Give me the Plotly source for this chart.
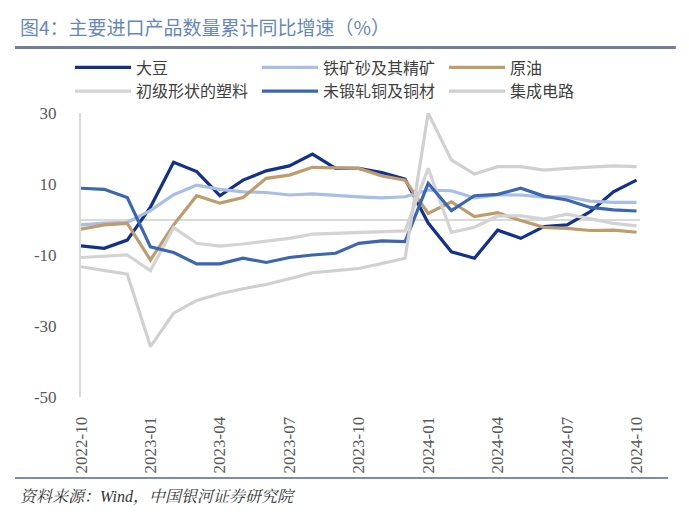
import plotly.graph_objects as go

months = ["2022-10", "2022-11", "2022-12", "2023-01", "2023-02", "2023-03", "2023-04",
          "2023-05", "2023-06", "2023-07", "2023-08", "2023-09", "2023-10", "2023-11",
          "2023-12", "2024-01", "2024-02", "2024-03", "2024-04", "2024-05", "2024-06",
          "2024-07", "2024-08", "2024-09", "2024-10"]

soybean = [-7.4, -8.1, -5.8, 3.5, 16.1, 13.5, 6.7, 11.1, 13.7, 15.1, 18.4, 14.4, 14.4,
           13.2, 11.4, -1.0, -9.1, -10.9, -3.0, -5.3, -2.0, -1.5, 2.2, 7.8, 11.1]
iron_ore = [-1.5, -1.0, -0.8, 2.5, 7.0, 9.7, 8.5, 7.8, 7.6, 6.9, 7.2, 6.7, 6.4,
            6.1, 6.4, 8.3, 8.1, 6.1, 6.9, 6.9, 6.3, 6.4, 5.2, 4.8, 4.8]
crude_oil = [-2.7, -1.5, -1.1, -11.4, -1.5, 6.7, 4.6, 6.2, 11.6, 12.5, 14.7, 14.5, 14.4,
             12.3, 11.1, 1.7, 5.0, 0.8, 1.9, -0.3, -2.2, -2.5, -3.1, -3.0, -3.6]
plastics = [-10.7, -10.3, -10.0, -14.4, -2.3, -6.7, -7.5, -6.9, -6.0, -5.3, -4.1, -3.9, -3.6,
            -3.6, -3.2, 14.4, -3.6, -2.2, 1.0, 1.0, 0.1, 1.5, 0.3, -1.1, -1.8]
copper = [8.8, 8.5, 6.2, -7.7, -9.3, -12.5, -12.5, -10.9, -12.1, -10.7, -10.0, -9.5, -6.7,
          -6.0, -6.2, 10.2, 2.5, 6.7, 7.1, 8.8, 6.6, 5.5, 3.4, 2.7, 2.4]
ic = [-13.3, -14.4, -15.4, -35.8, -26.4, -22.8, -20.9, -19.5, -18.3, -16.7, -15.0, -14.4, -13.8,
      -12.4, -10.9, 30.0, 16.8, 12.8, 14.9, 14.9, 13.9, 14.4, 14.7, 15.1, 14.9]

series_names = ["大豆", "铁矿砂及其精矿", "原油", "初级形状的塑料", "未锻轧铜及铜材", "集成电路"]
series_values = [soybean, iron_ore, crude_oil, plastics, copper, ic]
series_colors = ["#13308C", "#A9BEE5", "#BF9C6C", "#D3D3D3", "#3B66B1", "#D0D0D0"]

y_ticks = [30, 10, -10, -30, -50]
x_ticks = months[::3]

title_text = "图4：主要进口产品数量累计同比增速（%）"
source_text = "资料来源：Wind，中国银河证券研究院"

fig = go.Figure()
for name, vals, col in zip(series_names, series_values, series_colors):
    fig.add_trace(go.Scatter(x=months, y=vals, name=name, mode="lines",
                             line=dict(color=col, width=3.2)))

num_font = "Liberation Serif, Noto Serif CJK SC, Noto Sans CJK SC, serif"
cjk_font = "Noto Sans CJK SC, sans-serif"

fig.update_layout(
    width=689, height=520,
    margin=dict(l=81, r=49, t=113, b=123, autoexpand=False),
    paper_bgcolor="white", plot_bgcolor="white",
    showlegend=True,
    legend=dict(orientation="h", x=-0.0197, y=1.22, xref="paper", yref="paper",
                xanchor="left", yanchor="top",
                entrywidth=116, entrywidthmode="pixels",
                font=dict(family=cjk_font, size=16, color="#404040"),
                itemwidth=56, tracegroupgap=0, traceorder="normal",
                bgcolor="rgba(0,0,0,0)"),
    xaxis=dict(type="category", categoryorder="array", categoryarray=months,
               range=[0, 24.15], tickvals=x_ticks, ticktext=x_ticks, tickangle=-90,
               ticks="outside", ticklen=12, tickcolor="rgba(0,0,0,0)",
               showgrid=False, showline=False, zeroline=False,
               tickfont=dict(family=num_font, size=17, color="#595959")),
    yaxis=dict(range=[-50, 30], tickvals=y_ticks, ticktext=[str(v) for v in y_ticks],
               ticks="outside", ticklen=19, tickcolor="rgba(0,0,0,0)",
               showgrid=False, showline=True, linecolor="#D9D9D9", linewidth=2,
               zeroline=True, zerolinecolor="#D9D9D9", zerolinewidth=2,
               tickfont=dict(family=num_font, size=17, color="#595959")),
    annotations=[
        dict(text=title_text, xref="paper", yref="paper", x=-0.113, y=1.303,
             xanchor="left", yanchor="middle", showarrow=False,
             font=dict(family=cjk_font, size=19, color="#6787BA")),
        dict(text="<i>" + source_text + "</i>", xref="paper", yref="paper", x=-0.113, y=-0.352,
             xanchor="left", yanchor="middle", showarrow=False,
             font=dict(family="Liberation Serif, Noto Serif CJK SC, Noto Sans CJK SC, serif",
                       size=16, color="#333333")),
    ],
)

# decorative rules above and below the chart
fig.add_shape(type="line", xref="paper", yref="paper", x0=-0.118, x1=1.064, y0=1.2306, y1=1.2306,
              line=dict(color="#6F7F9A", width=3))
fig.add_shape(type="line", xref="paper", yref="paper", x0=-0.118, x1=1.05, y0=-0.285, y1=-0.285,
              line=dict(color="#7B8BA8", width=2))

fig.write_html("out.html", config={"displayModeBar": False},
               post_script="document.body.style.margin='0';")
